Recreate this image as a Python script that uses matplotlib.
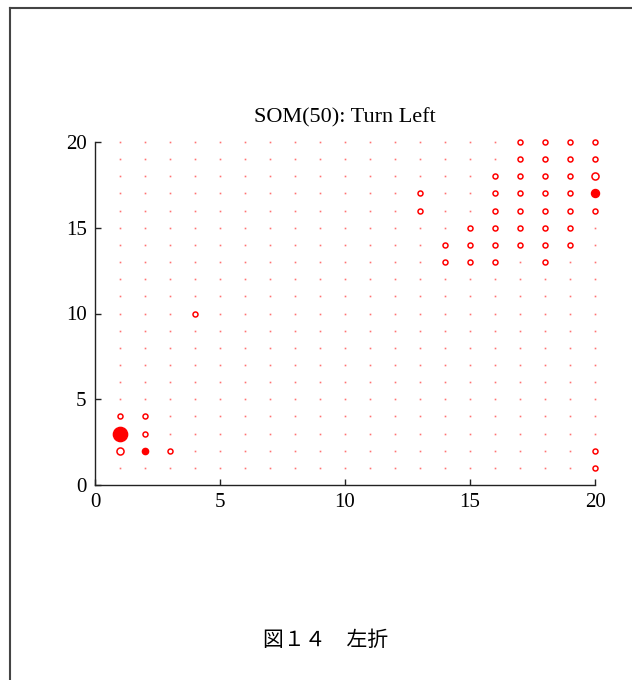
import matplotlib
matplotlib.use("Agg")
import matplotlib.pyplot as plt
from matplotlib.lines import Line2D
import numpy as np

# ---- data ----
grid_x = list(range(1, 21))
grid_y = list(range(1, 21))

hit_x = [1, 2, 1, 2, 1, 2, 3, 4,
         13, 13, 14, 14, 15, 15, 15,
         16, 16, 16, 16, 16, 16,
         17, 17, 17, 17, 17, 17, 17,
         18, 18, 18, 18, 18, 18, 18, 18,
         19, 19, 19, 19, 19, 19, 19,
         20, 20, 20, 20, 20, 20, 20]
hit_y = [4, 4, 3, 3, 2, 2, 2, 10,
         17, 16, 14, 13, 15, 14, 13,
         18, 17, 16, 15, 14, 13,
         20, 19, 18, 17, 16, 15, 14,
         20, 19, 18, 17, 16, 15, 14, 13,
         20, 19, 18, 17, 16, 15, 14,
         20, 19, 18, 17, 16, 2, 1]
hit_weight = [1, 1, 8, 1, 2, 1.5, 1, 1,
              1, 1, 1, 1, 1, 1, 1,
              1, 1, 1, 1, 1, 1,
              1, 1, 1, 1, 1, 1, 1,
              1, 1, 1, 1, 1, 1, 1, 1,
              1, 1, 1, 1, 1, 1, 1,
              1, 1, 2, 2.5, 1, 1, 1]
hit_filled = [0, 0, 1, 0, 0, 1, 0, 0,
              0, 0, 0, 0, 0, 0, 0,
              0, 0, 0, 0, 0, 0,
              0, 0, 0, 0, 0, 0, 0,
              0, 0, 0, 0, 0, 0, 0, 0,
              0, 0, 0, 0, 0, 0, 0,
              0, 0, 0, 1, 0, 0, 0]

x_ticks = [0, 5, 10, 15, 20]
y_ticks = [0, 5, 10, 15, 20]
title = "SOM(50): Turn Left"
caption = "図１４　左折"

# ---- figure ----
fig = plt.figure(figsize=(6.32, 6.8), dpi=100)
ax = fig.add_axes([95 / 632, 1 - 485 / 680, 500 / 632, 343 / 680])

gx, gy = np.meshgrid(grid_x, grid_y)
ax.plot(gx.ravel(), gy.ravel(), linestyle="none", marker="s", ms=1.2,
        mec="none", mfc=(1, 0.35, 0.35, 0.85), clip_on=False)

for x, y, w, f in zip(hit_x, hit_y, hit_weight, hit_filled):
    ms = 3.6 * np.sqrt(w)
    ax.plot([x], [y], linestyle="none", marker="o", ms=ms,
            mec="#ff0000", mfc="#ff0000" if f else "white", mew=1.1,
            clip_on=False, zorder=3)

ax.set_xlim(0, 20)
ax.set_ylim(0, 20)
ax.set_xticks(x_ticks)
ax.set_yticks(y_ticks)
for s in ["top", "right"]:
    ax.spines[s].set_visible(False)
for s in ["left", "bottom"]:
    ax.spines[s].set_color("#222222")
    ax.spines[s].set_linewidth(1.0)
ax.tick_params(direction="in", length=4, width=1.0, color="#222222", pad=6,
               labelsize=15)
for lab in ax.get_xticklabels() + ax.get_yticklabels():
    lab.set_fontfamily("Liberation Serif")
ax.set_title(title, fontfamily="Liberation Serif", fontsize=16, pad=14)

fig.text(326 / 632, 1 - 640 / 680, caption, ha="center", va="center",
         fontsize=15, family=["Noto Sans CJK JP", "DejaVu Sans"])

# page frame
fig.add_artist(Line2D([10 / 632, 1.0], [1 - 8 / 680, 1 - 8 / 680],
                      transform=fig.transFigure, color="#444444", lw=1.5))
fig.add_artist(Line2D([10 / 632, 10 / 632], [1 - 8 / 680, 0.0],
                      transform=fig.transFigure, color="#444444", lw=1.5))

fig.savefig("out.png", dpi=100)
